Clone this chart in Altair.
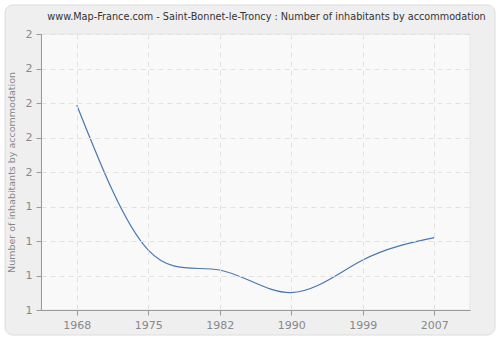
import altair as alt
import pandas as pd

years = ["1968", "1975", "1982", "1990", "1999", "2007"]
values = [1.743, 1.217, 1.145, 1.063, 1.181, 1.262]
y_ticks = [1, 1.125, 1.25, 1.375, 1.5, 1.625, 1.75, 1.875, 2]
title_text = "www.Map-France.com - Saint-Bonnet-le-Troncy : Number of inhabitants by accommodation"

df = pd.DataFrame({"year": years, "value": values})
one = pd.DataFrame({"t": [title_text]})

bg = alt.Chart(one).mark_rect(
    fill="#efefef", stroke="#dcdcdc", strokeWidth=1, cornerRadius=8, clip=False
).encode(
    x=alt.value(-36), x2=alt.value(454), y=alt.value(-29), y2=alt.value(301)
)

plotbg = alt.Chart(one).mark_rect(
    fill="#f9f9f9", stroke="#e6e6e6", strokeWidth=1
).encode(
    x=alt.value(0), x2=alt.value(429), y=alt.value(0), y2=alt.value(276)
)

title = alt.Chart(one).mark_text(
    fontSize=9.7, font="DejaVu Sans", color="#333333", align="center", baseline="middle"
).encode(
    text="t:N", x=alt.value(225.5), y=alt.value(-17)
)

line = alt.Chart(df).mark_line(
    color="#4a78b0", strokeWidth=1.2, interpolate="natural"
).encode(
    x=alt.X("year:O", sort=years, title=None,
            scale=alt.Scale(padding=0.5),
            axis=alt.Axis(labelAngle=0, grid=True, gridDash=[5, 4], zindex=1,
                          gridColor="#e2e2e2", domainColor="#999999",
                          tickColor="#999999", tickSize=5, labelColor="#888888",
                          labelFontSize=11, labelPadding=4, labelFont="DejaVu Sans")),
    y=alt.Y("value:Q", title="Number of inhabitants by accommodation",
            scale=alt.Scale(domain=[1, 2], nice=False, zero=False),
            axis=alt.Axis(values=y_ticks, format=".0f", grid=True, gridDash=[5, 4], zindex=1,
                          gridColor="#e2e2e2", domainColor="#999999",
                          tickColor="#999999", tickSize=5, labelColor="#888888",
                          labelFontSize=11, labelPadding=4, labelFont="DejaVu Sans",
                          titleColor="#888888", titleFontSize=9.5, titleFontWeight="normal",
                          titleFont="DejaVu Sans", titlePadding=9)),
)

chart = alt.layer(bg, plotbg, title, line).properties(
    width=429, height=276,
    autosize=alt.AutoSizeParams(type="none"),
    padding={"left": 41, "top": 34, "right": 30, "bottom": 30},
    background="white",
).configure_view(stroke=None)

chart.save("out.html", embed_options={"renderer": "svg", "actions": False})
